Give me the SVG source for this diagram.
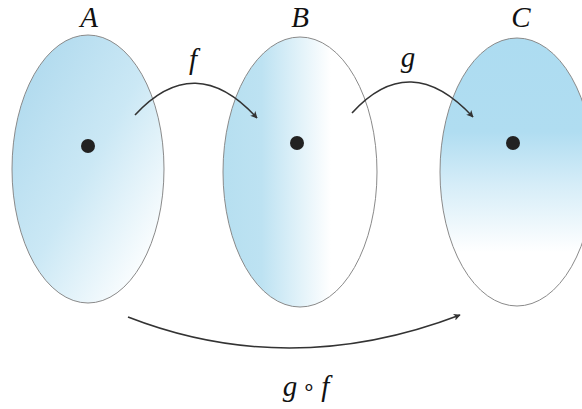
<svg xmlns="http://www.w3.org/2000/svg" width="582" height="409" viewBox="0 0 582 409">
<defs>
<linearGradient id="gA" x1="0" y1="0.2" x2="0.8" y2="1">
<stop offset="0" stop-color="#b0daee"/>
<stop offset="0.5" stop-color="#cbe8f5"/>
<stop offset="1" stop-color="#ffffff"/>
</linearGradient>
<linearGradient id="gB" x1="0" y1="0" x2="1" y2="0">
<stop offset="0" stop-color="#b6dff0"/>
<stop offset="0.25" stop-color="#bde2f2"/>
<stop offset="0.7" stop-color="#ffffff"/>
<stop offset="1" stop-color="#ffffff"/>
</linearGradient>
<linearGradient id="gC" x1="0" y1="0" x2="0" y2="1">
<stop offset="0" stop-color="#addcf1"/>
<stop offset="0.35" stop-color="#b0ddf1"/>
<stop offset="0.55" stop-color="#d6edf8"/>
<stop offset="0.8" stop-color="#ffffff"/>
<stop offset="1" stop-color="#ffffff"/>
</linearGradient>
<marker id="ah" viewBox="0 0 10 10" refX="9" refY="5" markerWidth="7" markerHeight="7" markerUnits="userSpaceOnUse" orient="auto">
<path d="M0,0 L10,5 L0,10 L2.5,5 Z" fill="#333"/>
</marker>
<style>
.set{stroke:#8a8a8a;stroke-width:1}
.dot{fill:#222}
.lbl{font-family:"Liberation Serif","Times New Roman",serif;font-style:italic;font-size:29px;fill:#111;text-anchor:middle}
.arr{fill:none;stroke:#333;stroke-width:1.6;marker-end:url(#ah)}
</style>
</defs>
<rect width="582" height="409" fill="#fff"/>
<g id="nodeA">
<ellipse class="set" cx="88" cy="169" rx="76" ry="134" fill="url(#gA)"/>
<circle class="dot" cx="88" cy="146" r="7"/>
<text class="lbl" x="89" y="27">A</text>
</g>
<g id="nodeB">
<ellipse class="set" cx="300" cy="172" rx="77" ry="135" fill="url(#gB)"/>
<circle class="dot" cx="297" cy="143" r="7"/>
<text class="lbl" x="300" y="27">B</text>
</g>
<g id="nodeC">
<ellipse class="set" cx="517" cy="172" rx="77" ry="134" fill="url(#gC)"/>
<circle class="dot" cx="513" cy="143" r="7"/>
<text class="lbl" x="521" y="27">C</text>
</g>
<g id="connectors">
<path class="arr" d="M135,115 Q195,50 257,118"/>
<path class="arr" d="M352,113 Q410,49 473,117"/>
<path class="arr" d="M128,317 Q290,380 460,315"/>
</g>
<g id="labels">
<text class="lbl" x="193" y="69">f</text>
<text class="lbl" x="408" y="67">g</text>
<text class="lbl" x="306" y="396">g<tspan font-style="normal" font-size="22" dx="5" dy="-2">∘</tspan><tspan dx="5" dy="2">f</tspan></text>
</g>
</svg>
